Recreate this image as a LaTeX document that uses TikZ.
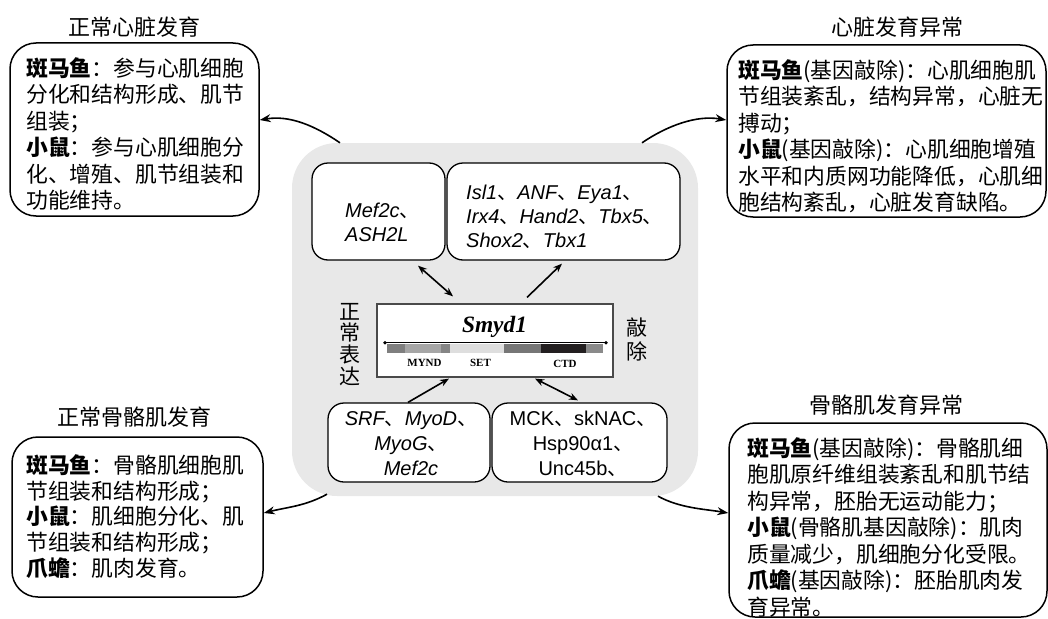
\documentclass[tikz,border=0pt]{standalone}
\usepackage{fontspec}
\setmainfont{Liberation Sans}
\newfontfamily\cjk{Noto Sans CJK SC}
\newfontfamily\tms{Liberation Serif}
\usetikzlibrary{arrows.meta,calc}
\definecolor{panelgray}{HTML}{E8E8E8}
\definecolor{smydborder}{HTML}{4A4A4A}
\definecolor{segA}{HTML}{7F7F7F}
\definecolor{segB}{HTML}{A6A6A6}
\definecolor{segC}{HTML}{858585}
\definecolor{segD}{HTML}{DEDEDE}
\definecolor{segE}{HTML}{767676}
\definecolor{segF}{HTML}{231F20}
\definecolor{segG}{HTML}{8A8A8A}
\newcommand\dun{{\cjk 、}}
\newcommand\bodyfont{\cjk\fontsize{21.8}{26.5}\selectfont}
\begin{document}
\begin{tikzpicture}[x=1pt,y=-1pt,
  outerbox/.style={draw, line width=1.5pt, rounded corners=26pt, inner sep=0pt},
  innerbox/.style={draw, fill=white, line width=1.3pt, rounded corners=16pt, inner sep=0pt},
  panelbox/.style={fill=panelgray, rounded corners=45pt, inner sep=0pt},
  titletext/.style={font=\cjk\fontsize{22}{22}\selectfont, anchor=base, inner sep=0pt},
  bodytext/.style={font=\bodyfont, align=left, anchor=base west, inner sep=0pt},
  genetext/.style={font=\itshape\fontsize{20}{24}\selectfont, inner sep=0pt, anchor=base west, align=left},
  genecenter/.style={font=\itshape\fontsize{20}{25}\selectfont, inner sep=0pt, anchor=base, align=center},
  geneup/.style={font=\fontsize{20}{25}\selectfont, inner sep=0pt, anchor=base, align=center},
  domainlabel/.style={font=\tms\bfseries\fontsize{11}{11}\selectfont, anchor=base, inner sep=0pt},
  outarrow/.style={line width=1.6pt, -{Stealth[length=11pt,width=8pt]}},
  inarrow/.style={line width=1.6pt, -{Stealth[length=9pt,width=7pt]}},
  biarrow/.style={line width=1.6pt, {Stealth[length=9pt,width=7pt]}-{Stealth[length=9pt,width=7pt]}}
]
\useasboundingbox (0,0) rectangle (1048,618);

% outer boxes
\node[outerbox, minimum width=249pt, minimum height=173pt] (tl) at (134.5,129.5) {};
\node[outerbox, minimum width=319pt, minimum height=172pt] (tr) at (886.5,131) {};
\node[outerbox, minimum width=251pt, minimum height=160pt] (bl) at (137.5,517) {};
\node[outerbox, minimum width=318pt, minimum height=194pt] (br) at (888,520) {};

% titles
\node[titletext] (tltitle) at (134,35.4) {正常心脏发育};
\node[titletext] (trtitle) at (897,35.4) {心脏发育异常};
\node[titletext] (bltitle) at (134,425.4) {正常骨骼肌发育};
\node[titletext] (brtitle) at (886,413.4) {骨骼肌发育异常};

% body texts (anchor = baseline of last line)
\node[bodytext] (tltext) at (26,208.8) {{\bfseries 斑马鱼}：参与心肌细胞\\分化和结构形成、肌节\\组装；\\{\bfseries 小鼠}：参与心肌细胞分\\化、增殖、肌节组装和\\功能维持。};
\node[bodytext] (trtext) at (738,210.8) {{\bfseries 斑马鱼}(基因敲除)：心肌细胞肌\\节组装紊乱，结构异常，心脏无\\搏动；\\{\bfseries 小鼠}(基因敲除)：心肌细胞增殖\\水平和内质网功能降低，心肌细\\胞结构紊乱，心脏发育缺陷。};
\node[bodytext, font=\cjk\fontsize{21.8}{25.8}\selectfont] (bltext) at (26,576.5) {{\bfseries 斑马鱼}：骨骼肌细胞肌\\节组装和结构形成；\\{\bfseries 小鼠}：肌细胞分化、肌\\节组装和结构形成；\\{\bfseries 爪蟾}：肌肉发育。};
\node[bodytext] (brtext) at (747,615.3) {{\bfseries 斑马鱼}(基因敲除)：骨骼肌细\\胞肌原纤维组装紊乱和肌节结\\构异常，胚胎无运动能力；\\{\bfseries 小鼠}(骨骼肌基因敲除)：肌肉\\质量减少，肌细胞分化受限。\\{\bfseries 爪蟾}(基因敲除)：胚胎肌肉发\\育异常。};

% central panel
\node[panelbox, minimum width=406pt, minimum height=353pt] (panel) at (495,319.5) {};
\node[innerbox, minimum width=133pt, minimum height=97pt] (mef) at (378.5,211.5) {};
\node[innerbox, minimum width=233pt, minimum height=97pt] (isl) at (563.5,211.5) {};
\node[innerbox, minimum width=162pt, minimum height=79pt] (srf) at (409,442.5) {};
\node[innerbox, minimum width=175pt, minimum height=79pt] (mck) at (579.5,442.5) {};
\node[draw=smydborder, fill=white, line width=1.2pt, minimum width=236pt, minimum height=73pt, inner sep=0pt] (smyd) at (495,340.5) {};

% gene texts
\node[genetext] (meftext) at (345,241) {Mef2c\dun\\ASH2L};
\node[genetext] (isltext) at (466,247) {Isl1\dun ANF\dun Eya1\dun\\Irx4\dun Hand2\dun Tbx5\dun\\Shox2\dun Tbx1};
\node[genecenter] (srftext) at (411,475) {SRF\dun MyoD\dun\\MyoG\dun\\Mef2c};
\node[geneup] (mcktext) at (583,475) {MCK\dun skNAC\dun\\Hsp90α1\dun\\Unc45b\dun};

% Smyd1 protein
\node[font=\tms\bfseries\itshape\fontsize{23.4}{24}\selectfont, anchor=base, inner sep=0pt] (smydtitle) at (494.5,332) {Smyd1};
\fill[segA] (387.3,343.5) rectangle (405,353);
\fill[segB] (405,343.5) rectangle (440.7,353);
\fill[segC] (440.7,343.5) rectangle (450,353);
\fill[segD] (450,343.5) rectangle (504,353);
\fill[segE] (504,343.5) rectangle (540.7,353);
\fill[segF] (540.7,343.5) rectangle (586,353);
\fill[segG] (586,343.5) rectangle (602.7,353);
\draw[line width=1.2pt] (385,342.7) -- (606,342.7);
\fill (385,342.7) circle (1.9pt);
\fill (606,342.7) circle (1.9pt);
\node[domainlabel] (mynd) at (424.5,366) {MYND};
\node[domainlabel] (setlabel) at (480.5,366) {SET};
\node[domainlabel] (ctd) at (565,367) {CTD};

% side labels
\node[font=\cjk\fontsize{21}{21.7}\selectfont, align=center, anchor=base, inner sep=0pt] (normexp) at (350,384.1) {正\\常\\表\\达};
\node[font=\cjk\fontsize{21}{24}\selectfont, align=center, anchor=base, inner sep=0pt] (knock) at (637,359) {敲\\除};

% inner arrows
\draw[biarrow] ([xshift=39.5pt,yshift=-5pt]mef.south) -- ([xshift=-42pt,yshift=7pt]smyd.north);
\draw[inarrow] ([xshift=32pt,yshift=6pt]smyd.north) -- ([xshift=-1.5pt,yshift=-3pt]isl.south);
\draw[inarrow] ([xshift=-1pt]srf.north) -- ([xshift=-46pt,yshift=-1pt]smyd.south);
\draw[biarrow] ([xshift=40pt,yshift=-1pt]smyd.south) -- ([xshift=-1.5pt,yshift=2pt]mck.north);

% outer arrows
\draw[outarrow] ([xshift=-155pt]panel.north) .. controls +(-25,-17) and +(30,-5) .. ([yshift=9.5pt]tl.east);
\draw[outarrow] ([xshift=147pt]panel.north) .. controls +(25,-17) and +(-30,-5) .. ([yshift=11pt]tr.west);
\draw[outarrow] ([xshift=-168pt,yshift=2pt]panel.south) .. controls +(-22,12) and +(24,-6) .. ([yshift=4pt]bl.east);
\draw[outarrow] ([xshift=163pt]panel.south) .. controls +(22,12) and +(-24,-4) .. ([yshift=7pt]br.west);
\end{tikzpicture}
\end{document}
